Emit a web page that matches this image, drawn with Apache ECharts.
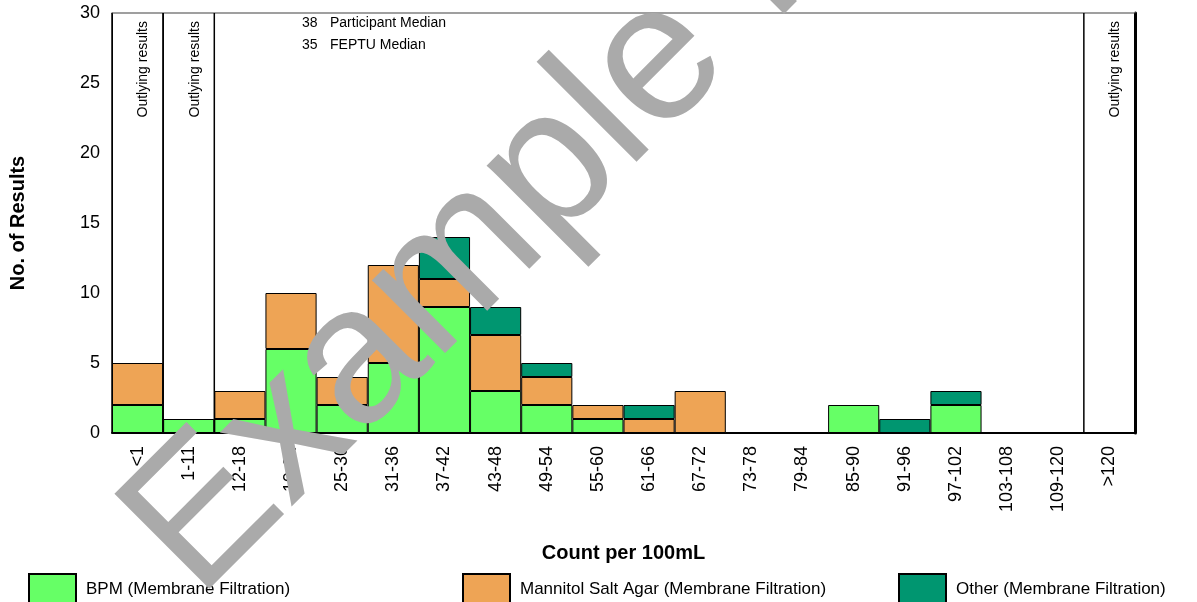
<!DOCTYPE html>
<html>
<head>
<meta charset="utf-8">
<script src="https://cdn.jsdelivr.net/npm/echarts@6/dist/echarts.min.js"></script>
<style>
html,body{margin:0;padding:0;background:#fff;}
#chart{width:1197px;height:602px;}
</style>
</head>
<body>
<div id="chart"></div>
<script>
const categories = ['<1','1-11','12-18','19-24','25-30','31-36','37-42','43-48','49-54','55-60','61-66','67-72','73-78','79-84','85-90','91-96','97-102','103-108','109-120','>120'];
const bpm   = [2, 1, 1, 6, 2, 5, 9, 3, 2, 1, 0, 0, 0, 0, 2, 0, 2, 0, 0, 0];
const msa   = [3, 0, 2, 4, 2, 7, 2, 4, 2, 1, 1, 3, 0, 0, 0, 0, 0, 0, 0, 0];
const other = [0, 0, 0, 0, 0, 0, 3, 2, 1, 0, 1, 0, 0, 0, 0, 1, 1, 0, 0, 0];
const seriesNames = ['BPM (Membrane Filtration)', 'Mannitol Salt Agar (Membrane Filtration)', 'Other (Membrane Filtration)'];
const outlyingCats = ['<1', '1-11', '>120'];
const yTicks = [0, 5, 10, 15, 20, 25, 30];
const medians = [['38', 'Participant Median'], ['35', 'FEPTU Median']];

const FONT = '"Liberation Sans", Arial, Helvetica, sans-serif';
const colors = ['#66FF66', '#EEA455', '#009670'];
const nz = arr => arr.map(v => v === 0 ? null : v);

const chart = echarts.init(document.getElementById('chart'));

const barSeries = [bpm, msa, other].map((d, i) => ({
  name: seriesNames[i],
  type: 'bar',
  stack: 'total',
  barCategoryGap: '0%',
  data: nz(d),
  itemStyle: { color: colors[i], borderColor: '#000', borderWidth: 1 },
  emphasis: { disabled: true }
}));

const outlyingSeries = {
  type: 'custom',
  silent: true,
  z: 5,
  data: outlyingCats.map(c => [categories.indexOf(c)]),
  encode: { x: 0 },
  renderItem: function (params, api) {
    const idx = api.value(0);
    const top = api.coord([idx, yTicks[yTicks.length - 1]]);
    const bot = api.coord([idx, 0]);
    const w = api.size([1, 0])[0];
    const xl = top[0] - w / 2, xr = top[0] + w / 2;
    return {
      type: 'group',
      children: [
        { type: 'line', shape: { x1: xl, y1: top[1], x2: xl, y2: bot[1] }, style: { stroke: '#000', lineWidth: 1.5 } },
        { type: 'line', shape: { x1: xr, y1: top[1], x2: xr, y2: bot[1] }, style: { stroke: '#000', lineWidth: 1.5 } },
        { type: 'text', x: top[0] + 6, y: top[1] + 8, rotation: Math.PI / 2,
          style: { text: 'Outlying results', align: 'right', verticalAlign: 'middle', fill: '#000', font: '14px ' + FONT } }
      ]
    };
  }
};

const legends = seriesNames.map((n, i) => ({
  data: [n],
  left: [28, 462, 898][i],
  top: 573,
  padding: 0,
  icon: 'rect',
  itemWidth: 47,
  itemHeight: 30,
  selectedMode: false,
  textStyle: { fontSize: 17, color: '#000', fontFamily: FONT, padding: [0, 0, 0, 5] }
}));

const graphics = [];
medians.forEach((m, i) => {
  graphics.push({ type: 'text', left: 302, top: 16 + i * 22, style: { text: m[0], fill: '#000', font: '14px ' + FONT } });
  graphics.push({ type: 'text', left: 330, top: 16 + i * 22, style: { text: m[1], fill: '#000', font: '14px ' + FONT } });
});
graphics.push({
  type: 'text', x: 160, y: 562, rotation: Math.PI / 4, z: 100, silent: true,
  style: { text: 'Example Report', fill: '#AAAAAA', font: '195px ' + FONT, align: 'left', verticalAlign: 'middle' }
});

chart.setOption({
  backgroundColor: '#fff',
  animation: false,
  grid: { left: 109, right: 62, top: 13, bottom: 169 },
  legend: legends,
  graphic: graphics,
  xAxis: [
    {
      type: 'category', data: categories, position: 'bottom',
      name: 'Count per 100mL', nameLocation: 'middle', nameGap: 110,
      nameTextStyle: { fontSize: 20, fontWeight: 'bold', color: '#000', fontFamily: FONT },
      axisLine: { show: true, onZero: false, lineStyle: { color: '#000', width: 2 } },
      axisTick: { show: false },
      axisLabel: { rotate: 90, fontSize: 18, color: '#000', fontFamily: FONT, margin: 13, interval: 0 },
      splitLine: { show: false }
    },
    {
      type: 'category', data: categories, position: 'top',
      axisLine: { show: true, onZero: false, lineStyle: { color: '#808080', width: 1.5 } },
      axisTick: { show: false }, axisLabel: { show: false }, splitLine: { show: false }
    }
  ],
  yAxis: [
    {
      type: 'value', min: yTicks[0], max: yTicks[yTicks.length - 1], interval: yTicks[1] - yTicks[0],
      name: 'No. of Results', nameLocation: 'middle', nameGap: 84,
      nameTextStyle: { fontSize: 20, fontWeight: 'bold', color: '#000', fontFamily: FONT },
      axisLine: { show: true, onZero: false, lineStyle: { color: '#000', width: 1 } },
      axisTick: { show: false },
      axisLabel: { fontSize: 18, color: '#000', fontFamily: FONT, margin: 12 },
      splitLine: { show: false }
    },
    {
      type: 'value', position: 'right', min: yTicks[0], max: yTicks[yTicks.length - 1],
      axisLine: { show: true, onZero: false, lineStyle: { color: '#000', width: 3 } },
      axisTick: { show: false }, axisLabel: { show: false }, splitLine: { show: false }
    }
  ],
  series: barSeries.concat([outlyingSeries])
});
</script>
</body>
</html>
